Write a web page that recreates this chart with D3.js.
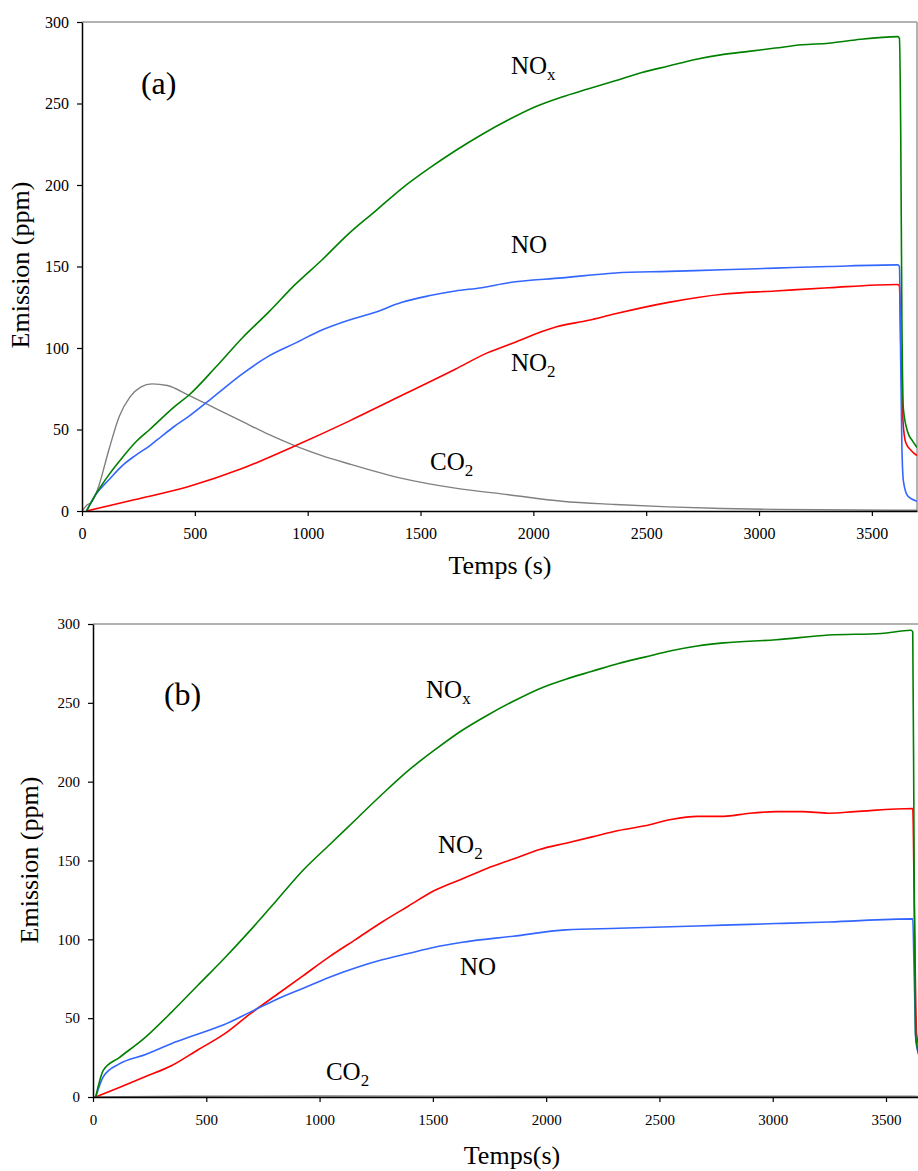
<!DOCTYPE html>
<html><head><meta charset="utf-8">
<script src="https://cdn.jsdelivr.net/npm/d3@7"></script>
<style>body{margin:0;background:#fff}svg{display:block}text{font-family:"Liberation Serif","Times New Roman",Times,"DejaVu Serif",serif;fill:#000}</style>
</head><body><svg id="c" width="918" height="1171"></svg>
<script>
// ---------- Panel (a) data ----------
const noxA_t = [20,60,118,180,236,300,354,410,473,591,709,827,945,1063,1181,1300,1418,1536,1654,1772,1890,2009,2127,2245,2363,2481,2599,2717,2836,2954,3072,3190,3308,3426,3615,3622,3628,3633,3640,3660,3680,3700];
const noxA_v = [0,10,22,33,42,50,57,64,71,88,106,122,139,154,170,184,198,210,221,231,240,248,254,259,264,269,273,277,280,282,284,286,287,289,291,290,230,120,62,48,43,39];
const noA_t = [20,60,118,180,236,300,354,410,473,591,709,827,945,1063,1181,1300,1418,1536,1654,1772,1890,2127,2363,2599,2836,3072,3308,3615,3622,3628,3633,3640,3660,3700];
const noA_v = [0,10,19,28,34,40,46,52,58,71,84,95,103,111,117,122,128,132,135,137,140,143,146,147,148,149,150,151,150,90,40,18,9,6];
const no2A_t = [20,236,473,709,945,1181,1418,1654,1796,1890,2103,2245,2363,2599,2836,3072,3308,3615,3622,3630,3638,3650,3675,3700];
const no2A_v = [0,7,15,26,40,55,71,87,97,102,113,117,121,128,133,135,137,139,138,90,55,42,37,34];
const co2A_t = [0,25,40,71,118,165,213,260,310,378,473,591,709,827,945,1063,1181,1418,1654,1890,2127,2363,2599,2836,3072,3600,3700];
const co2A_v = [0,4,5,14,37,58,70,76,78,77,71,63,55,47,40,34,29,20,14,10,6,4,2.5,1.5,1,0.5,0.5];

// ---------- Panel (b) data ----------
const noxB_t = [12,46,116,232,348,464,580,696,812,928,1044,1160,1276,1391,1507,1623,1739,1855,1971,2087,2203,2319,2435,2551,2667,2783,3015,3247,3479,3610,3618,3624,3630,3650];
const noxB_v = [0,17,25,38,54,71,88,106,125,144,160,176,192,207,220,232,242,251,259,265,270,275,279,283,286,288,290,293,294,296,295,150,40,25];
const no2B_t = [12,116,232,348,464,580,696,812,928,1044,1160,1276,1391,1507,1623,1739,1855,1971,2087,2203,2319,2435,2551,2667,2783,2899,3015,3131,3247,3363,3618,3625,3635,3650];
const no2B_v = [0,6,13,20,30,40,53,65,77,89,100,111,121,131,138,145,151,157,161,165,169,172,176,178,178,180,181,181,180,181,183,120,40,30];
const noB_t = [12,46,116,232,348,464,580,696,812,928,1044,1160,1276,1391,1507,1623,1855,2087,2319,2551,2783,3015,3247,3618,3624,3632,3650];
const noB_v = [0,13,21,27,34,40,46,54,62,69,76,82,87,91,95,98,102,106,107,108,109,110,111,113,80,35,25];
const co2B_t = [0,400,1000,2000,3000,3620,3650];
const co2B_v = [0,0.5,0.6,0.5,0.5,0.5,0.3];

const yTicks = [0,50,100,150,200,250,300];
const xTicks = [0,500,1000,1500,2000,2500,3000,3500];

const colors = {nox:"#008000", no:"#3366ff", no2:"#ff0000", co2:"#808080"};
const FONT = '"Liberation Serif","Times New Roman",Times,"DejaVu Serif",serif';

const svg = d3.select("#c");

function zip(t,v){ return t.map((d,i)=>[d,v[i]]); }

function panel(cfg){
  const x = d3.scaleLinear().domain(cfg.xDom).range(cfg.xRange);
  const y = d3.scaleLinear().domain([0,300]).range(cfg.yRange);
  const g = svg.append("g");
  const id = "clip"+cfg.name;
  svg.append("clipPath").attr("id",id).append("rect")
    .attr("x",cfg.xRange[0]).attr("y",cfg.yRange[1]-2)
    .attr("width",cfg.xRange[1]-cfg.xRange[0]).attr("height",cfg.yRange[0]-cfg.yRange[1]+3);
  g.append("line").attr("x1",cfg.xRange[0]).attr("x2",cfg.xRange[1]).attr("y1",cfg.yRange[1]).attr("y2",cfg.yRange[1])
    .attr("stroke","#999").attr("stroke-width",1.5);
  g.append("line").attr("x1",cfg.xRange[1]).attr("x2",cfg.xRange[1]).attr("y1",cfg.yRange[1]).attr("y2",cfg.yRange[0])
    .attr("stroke","#999").attr("stroke-width",1.5);
  const line = d3.line().x(d=>x(d[0])).y(d=>y(d[1])).curve(d3.curveMonotoneX);
  const lg = g.append("g").attr("clip-path",`url(#${id})`);
  cfg.series.forEach(s=>{
    lg.append("path").attr("d",line(zip(s.t,s.v))).attr("fill","none")
      .attr("stroke",colors[s.k]).attr("stroke-width",s.w||1.6).attr("stroke-linejoin","round");
  });
  const ax = g.append("g").attr("transform",`translate(0,${cfg.yRange[0]})`)
    .call(d3.axisBottom(x).tickValues(xTicks).tickSize(5).tickSizeOuter(0).tickPadding(cfg.xPad).tickFormat(d3.format("d")));
  const ay = g.append("g").attr("transform",`translate(${cfg.xRange[0]},0)`)
    .call(d3.axisLeft(y).tickValues(yTicks).tickSize(5).tickSizeOuter(0).tickPadding(8));
  [ax,ay].forEach(a=>{
    a.attr("font-family",FONT).attr("font-size",cfg.tickFont);
    a.selectAll("text").style("font-family",FONT).style("font-size",cfg.tickFont+"px").attr("fill","#000");
    a.select(".domain").attr("stroke","#000").attr("stroke-width",1.5);
    a.selectAll(".tick line").attr("stroke","#000").attr("stroke-width",1.2);
  });
  g.append("text").attr("x",cfg.xTitle[0]).attr("y",cfg.xTitle[1]).attr("text-anchor","middle")
    .style("font-family",FONT).style("font-size","26px").text(cfg.xTitleText);
  g.append("text").attr("transform",`translate(${cfg.yTitle[0]},${cfg.yTitle[1]}) rotate(-90)`).attr("text-anchor","middle")
    .style("font-family",FONT).style("font-size","26px").text("Emission (ppm)");
  cfg.labels.forEach(l=>{
    const t = g.append("text").attr("x",x(l.t)).attr("y",y(l.v)).style("font-family",FONT).style("font-size",(l.size||25)+"px");
    t.append("tspan").text(l.main);
    if(l.sub) t.append("tspan").attr("dy",6).style("font-size","17px").text(l.sub);
  });
}

panel({name:"a", xDom:[0,3700], xRange:[82,917], yRange:[511,22], xPad:12, tickFont:16,
  xTitle:[500,574], xTitleText:"Temps (s)", yTitle:[29,265],
  series:[{k:"co2",t:co2A_t,v:co2A_v,w:1.4},{k:"no2",t:no2A_t,v:no2A_v},{k:"no",t:noA_t,v:noA_v},{k:"nox",t:noxA_t,v:noxA_v}],
  labels:[{t:261,v:255.7,main:"(a)",size:32},{t:1901,v:268,main:"NO",sub:"x"},{t:1901,v:158,main:"NO"},
          {t:1901,v:85.8,main:"NO",sub:"2"},{t:1542,v:25,main:"CO",sub:"2"}]});

panel({name:"b", xDom:[0,3650], xRange:[93,920], yRange:[1097,624], xPad:12, tickFont:15,
  xTitle:[512,1164], xTitleText:"Temps(s)", yTitle:[38,860],
  series:[{k:"co2",t:co2B_t,v:co2B_v,w:1.4},{k:"no2",t:no2B_t,v:no2B_v},{k:"no",t:noB_t,v:noB_v},{k:"nox",t:noxB_t,v:noxB_v}],
  labels:[{t:313,v:248.4,main:"(b)",size:32},{t:1470,v:252.9,main:"NO",sub:"x"},{t:1523,v:154.6,main:"NO",sub:"2"},
          {t:1620,v:77.2,main:"NO"},{t:1028,v:10.6,main:"CO",sub:"2"}]});
</script></body></html>
